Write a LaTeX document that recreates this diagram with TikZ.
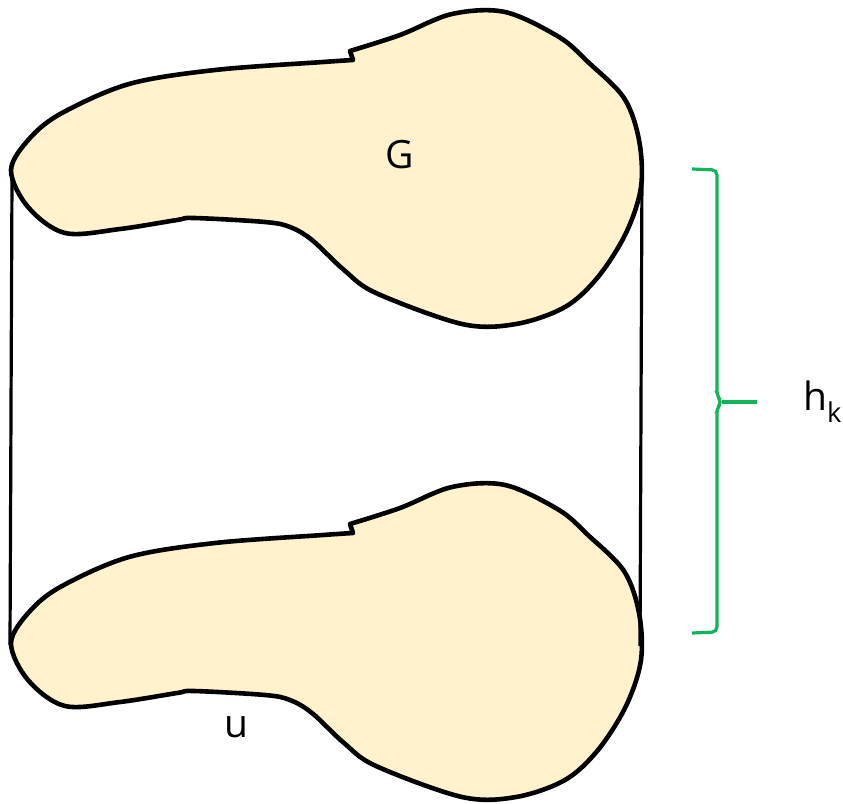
\documentclass[tikz,border=0pt]{standalone}
\usepackage{xcolor}
\usepackage{tikz}
\usepackage{fontspec}
\setmainfont{Open Sans}
\definecolor{blobFill}{HTML}{FFF2CC}
\definecolor{blobLine}{HTML}{000000}
\definecolor{braceGreen}{HTML}{10B55A}
\usetikzlibrary{calc}

\newcommand{\blobshape}{%
  (350,51) -- plot[smooth, tension=0.55] coordinates {(350,51) (400,35) (452,14) (505,12) (559,37) (588,62) (624,98) (639,140) (641,187) (626,233) (598,277) (565,307) (516,324) (462,324) (376,293) (344,270) (312,240) (290,227) (265,222) (194,218) (177,220) (120,229) (65,233) (28,207) (11,170) (30,138) (62,113) (129,84) (215,70) (323,62) (353,60)} -- cycle}

\begin{document}
\begin{tikzpicture}[
  x=1pt, y=-1pt,
  font=\fontsize{39}{46}\selectfont,
  blob/.style={draw=blobLine, line width=4.6pt, fill=blobFill, line join=round},
  side/.style={line width=3.2pt, blobLine},
  hkbrace/.style={line width=3.2pt, braceGreen, rounded corners=5pt},
  lbl/.style={inner sep=0pt, text=black}
]
\useasboundingbox (0,0) rectangle (843,803);

% Blobs
\draw[blob] \blobshape;
\draw[blob, shift={(0,473)}] \blobshape;

% Sides of the cylinder
\coordinate (topLeft) at (12,178);
\coordinate (botLeft) at (10,645);
\coordinate (topRight) at (642,170);
\coordinate (botRight) at (640,646);
\draw[side] (topLeft) -- (botLeft);
\draw[side] (topRight) -- (botRight);

% Height brace
\coordinate (braceTop) at (692,169);
\coordinate (braceMid) at (722,402);
\coordinate (braceBot) at (692,633);
\coordinate (braceTip) at (757,402);
\draw[hkbrace] (braceTop) -- (717,170) -- (717,396) -- (braceMid) -- (717,408) -- (717,632) -- (braceBot);
\draw[hkbrace] (braceMid) -- (braceTip);

% Labels
\node[lbl] (gLabel) at (400,155) {G};
\node[lbl] (uLabel) at (236,727) {u};
\node[lbl, anchor=west] (hLabel) at (803,402) {h\textsubscript{k}};

\end{tikzpicture}
\end{document}
